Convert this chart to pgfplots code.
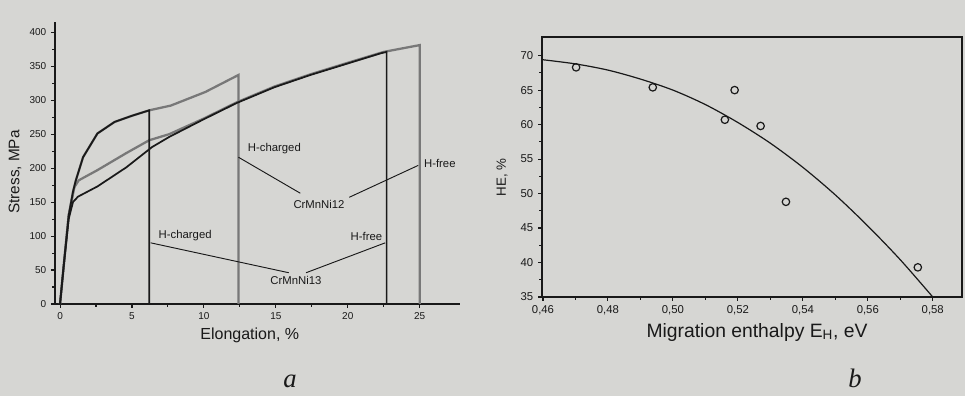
\documentclass[border=0pt]{standalone}
\usepackage{pgfplots}
\pgfplotsset{compat=1.18}
\usepackage{fontspec}
\setmainfont{Liberation Sans}
\newfontfamily\serifit{Liberation Serif}
\definecolor{paper}{RGB}{214,214,211}
\definecolor{ink}{RGB}{25,25,25}
\definecolor{lightink}{RGB}{120,120,120}
\begin{document}
\begin{tikzpicture}
\fill[paper] (0,0) rectangle (723.75pt,297pt);
\useasboundingbox (0,0) rectangle (723.75pt,297pt);
% ---------------- chart a ----------------
\begin{axis}[
  at={(41.25pt,69pt)}, anchor=south west,
  scale only axis, width=303.75pt, height=211.5pt,
  xmin=-0.35, xmax=27.8, ymin=0, ymax=415,
  axis x line=bottom, axis y line=left,
  axis line style={-, ink, line width=1.2pt},
  xtick={0,5,10,15,20,25}, ytick={0,50,100,150,200,250,300,350,400},
  minor x tick num=1, minor y tick num=1,
  tick align=outside, major tick length=3pt, minor tick length=2pt,
  every tick/.style={ink, line width=0.8pt},
  /pgf/number format/assume math mode=true,
  ticklabel style={font=\fontsize{7.5}{8}\selectfont, text=ink},
  xlabel={Elongation, \%}, ylabel={Stress, MPa},
  xlabel style={at={(axis description cs:0.481,-0.11)}, anchor=center, font=\fontsize{12}{14}\selectfont, text=ink},
  ylabel style={at={(axis description cs:-0.099,0.468)}, anchor=center, font=\fontsize{11.5}{14}\selectfont, text=ink},
  clip=false,
]
% CrMnNi12 H-charged (grey)
\addplot[lightink, line width=1.7pt] coordinates {
(0,0) (0.25,55) (0.6,130) (0.9,165) (1.1,182) (1.6,216) (2.6,251) (3.8,268) (5.0,277) (6.2,285)
(7.7,292) (10.1,312) (12.4,337) (12.4,0)};
% CrMnNi12 H-free (grey)
\addplot[lightink, line width=1.7pt] coordinates {
(0,0) (0.25,55) (0.6,130) (1.0,172) (1.3,182) (2.6,197) (4.6,222) (6.2,241) (7.6,250) (10,273)
(12.3,297) (14.9,320) (17.4,338) (20,355) (22.5,371) (25,381) (25,0)};
% CrMnNi13 H-charged (dark)
\addplot[ink, line width=1.3pt] coordinates {
(0,0) (0.25,55) (0.6,130) (0.9,165) (1.1,182) (1.6,216) (2.6,251) (3.8,268) (5.0,277) (6.2,285) (6.2,0)};
% CrMnNi13 H-free (dark)
\addplot[ink, line width=1.3pt] coordinates {
(0,0) (0.25,55) (0.6,125) (0.9,150) (1.25,158) (2.6,173) (4.6,201) (6.4,231) (7.6,246) (10,272)
(12.3,296) (14.9,319) (17.4,337) (20,354) (22.3,369) (22.7,371) (22.7,0)};
% annotations
\draw[ink, line width=0.7pt] (axis cs:12.4,216) -- (axis cs:16.7,163);
\draw[ink, line width=0.7pt] (axis cs:20.1,157) -- (axis cs:24.9,204);
\draw[ink, line width=0.7pt] (axis cs:6.3,90) -- (axis cs:15.9,46);
\draw[ink, line width=0.7pt] (axis cs:17.1,46) -- (axis cs:22.6,90);
\begin{scope}[every node/.style={font=\fontsize{8.5}{10}\selectfont, text=ink, inner sep=1pt}]
\node at (axis cs:14.9,229) {H-charged};
\node at (axis cs:18.0,146) {CrMnNi12};
\node at (axis cs:26.4,207) {H-free};
\node at (axis cs:8.7,101) {H-charged};
\node at (axis cs:21.3,99) {H-free};
\node at (axis cs:16.4,35) {CrMnNi13};
\end{scope}
\end{axis}
% ---------------- chart b ----------------
\begin{axis}[
  at={(406.5pt,74.25pt)}, anchor=south west,
  scale only axis, width=315pt, height=195pt,
  xmin=0.4597, xmax=0.589, ymin=35, ymax=72.7,
  xtick={0.46,0.48,0.50,0.52,0.54,0.56,0.58},
  ytick={35,40,45,50,55,60,65,70},
  minor x tick num=1, minor y tick num=1,
  tick pos=left, tick align=outside,
  major tick length=3pt, minor tick length=2pt,
  every tick/.style={ink, line width=0.8pt},
  axis line style={ink, line width=1.4pt},
  scaled x ticks=false,
  /pgf/number format/assume math mode=true,
  xticklabel style={/pgf/number format/.cd, fixed, fixed zerofill, precision=2, use comma},
  ticklabel style={font=\fontsize{8.5}{9}\selectfont, text=ink},
  xlabel={Migration enthalpy E\textsubscript{H}, eV}, ylabel={HE, \%},
  xlabel style={at={(axis description cs:0.512,-0.135)}, anchor=center, font=\fontsize{14.5}{16}\selectfont, text=ink},
  ylabel style={at={(axis description cs:-0.095,0.46)}, anchor=center, font=\fontsize{10}{12}\selectfont, text=ink},
  clip=false,
]
\addplot[ink, line width=0.9pt, smooth] coordinates {
(0.460,69.4) (0.470,68.8) (0.480,67.9) (0.490,66.6) (0.500,65.0) (0.510,62.9) (0.520,60.3)
(0.530,57.3) (0.540,53.8) (0.550,49.8) (0.560,45.3) (0.570,40.4) (0.580,35.0)};
\addplot[only marks, mark=o, mark size=2.8pt, ink, mark options={line width=0.9pt}] coordinates {
(0.4702,68.3) (0.4938,65.4) (0.5160,60.7) (0.5190,65.0) (0.5270,59.8) (0.5348,48.8) (0.5754,39.3)};
\end{axis}
\node[anchor=base, inner sep=0pt, font=\serifit\itshape\fontsize{20}{22}\selectfont, text=ink] at (217.5pt,6.5pt) {a};
\node[anchor=base, inner sep=0pt, font=\serifit\itshape\fontsize{20}{22}\selectfont, text=ink] at (641.25pt,6.5pt) {b};
\end{tikzpicture}
\end{document}
